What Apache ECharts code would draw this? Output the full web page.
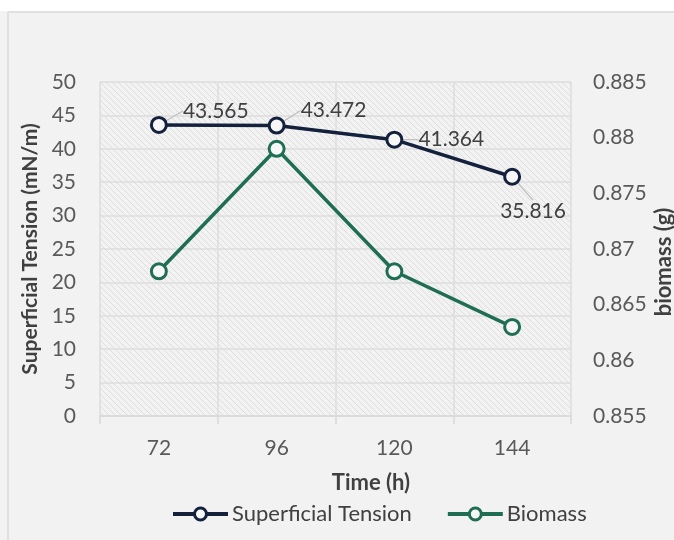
<!DOCTYPE html>
<html><head><meta charset="utf-8">
<script src="https://cdn.jsdelivr.net/npm/echarts@6/dist/echarts.min.js"></script>
<style>html,body{margin:0;padding:0;background:#f2f2f2;overflow:hidden}#c{width:674px;height:540px}</style>
</head><body><div id="c"></div>
<script>
const categories = ['72', '96', '120', '144'];
const tensionValues = [43.565, 43.472, 41.364, 35.816];
const biomassValues = [0.868, 0.879, 0.868, 0.863];
const leftMin = 0, leftMax = 50, leftStep = 5;
const rightMin = 0.855, rightMax = 0.885, rightStep = 0.005;

const labelOffsets = [[10, -14], [10, -15], [10, 0], [-26, 34]];

const FONT = 'Lato';
const navy = '#14213d';
const green = '#1f6e54';

const pc = document.createElement('canvas');
pc.width = 6; pc.height = 6;
const g = pc.getContext('2d');
g.fillStyle = '#f2f2f2'; g.fillRect(0, 0, 6, 6);
g.strokeStyle = '#dedede'; g.lineWidth = 1;
g.beginPath();
g.moveTo(-1, -1); g.lineTo(7, 7);
g.moveTo(-1, 5); g.lineTo(1, 7);
g.moveTo(5, -1); g.lineTo(7, 1);
g.stroke();

const chart = echarts.init(document.getElementById('c'));
chart.setOption({
  backgroundColor: '#f2f2f2',
  animation: false,
  textStyle: { fontFamily: FONT },
  graphic: [
    { type: 'rect', shape: { x: 0, y: 0, width: 674, height: 11 }, style: { fill: '#ffffff' }, silent: true },
    { type: 'line', shape: { x1: 8, y1: 12, x2: 674, y2: 12 }, style: { stroke: '#e0e0e0', lineWidth: 2 }, silent: true },
    { type: 'line', shape: { x1: 8, y1: 12, x2: 8, y2: 540 }, style: { stroke: '#e0e0e0', lineWidth: 2 }, silent: true },
    { type: 'text', x: 371, y: 483, style: { text: 'Time (h)', font: 'bold 22px Lato', fill: '#404040', align: 'center', verticalAlign: 'middle' } },
    { type: 'text', x: 664, y: 262, rotation: Math.PI / 2, style: { text: 'biomass (g)', font: 'bold 22px Lato', fill: '#404040', align: 'center', verticalAlign: 'middle' } }
  ],
  grid: {
    left: 100, right: 103, top: 82, bottom: 124,
    outerBoundsMode: 'none', containLabel: false,
    show: true, borderWidth: 0,
    backgroundColor: { image: pc, repeat: 'repeat' }
  },
  legend: {
    left: 171, top: 503, padding: 0,
    itemWidth: 55, itemHeight: 15, itemGap: 34,
    textStyle: { fontFamily: FONT, fontSize: 22, color: '#404040', padding: [0, 0, 0, -1] },
    data: [
      { name: 'Superficial Tension', lineStyle: { width: 4, color: navy }, itemStyle: { color: '#f7f7f7', borderColor: navy, borderWidth: 3 } },
      { name: 'Biomass', lineStyle: { width: 4, color: green }, itemStyle: { color: '#f7f7f7', borderColor: green, borderWidth: 3 } }
    ]
  },
  xAxis: {
    type: 'category', data: categories, boundaryGap: true,
    axisLine: { show: true, lineStyle: { color: '#d9d9d9', width: 1.5 } },
    axisTick: { show: true, length: 8, interval: 0, lineStyle: { color: '#d9d9d9', width: 1.5 } },
    splitLine: { show: true, interval: 0, lineStyle: { color: '#dcdcdc', width: 1.5 } },
    axisLabel: { fontFamily: FONT, fontSize: 21, color: '#595959', margin: 22 }
  },
  yAxis: [
    {
      type: 'value', min: leftMin, max: leftMax, interval: leftStep,
      name: 'Superficial Tension (mN/m)', nameLocation: 'middle', nameRotate: 90, nameGap: 56,
      nameTextStyle: { fontFamily: FONT, fontSize: 21, fontWeight: 'bold', color: '#404040' },
      axisLine: { show: false }, axisTick: { show: false },
      splitLine: { show: true, lineStyle: { color: '#dcdcdc', width: 1.5 } },
      axisLabel: { fontFamily: FONT, fontSize: 21, color: '#595959', margin: 24 }
    },
    {
      type: 'value', min: rightMin, max: rightMax, interval: rightStep,
      axisLine: { show: false }, axisTick: { show: false }, splitLine: { show: false },
      axisLabel: { fontFamily: FONT, fontSize: 21, color: '#595959', margin: 22,
        formatter: v => String(+v.toFixed(3)) }
    }
  ],
  series: [
    {
      name: 'Superficial Tension', type: 'line', yAxisIndex: 0, data: tensionValues,
      symbol: 'circle', symbolSize: 15,
      lineStyle: { color: navy, width: 3.5 },
      itemStyle: { color: '#f7f7f7', borderColor: navy, borderWidth: 3 },
      label: { show: true, position: 'right', fontFamily: FONT, fontSize: 21, color: '#404040',
        formatter: p => String(p.value) },
      labelLine: { show: true, lineStyle: { color: '#bfbfbf', width: 1.2 } },
      labelLayout: p => ({ dx: labelOffsets[p.dataIndex][0], dy: labelOffsets[p.dataIndex][1] }),
      z: 3
    },
    {
      name: 'Biomass', type: 'line', yAxisIndex: 1, data: biomassValues,
      symbol: 'circle', symbolSize: 15,
      lineStyle: { color: green, width: 3.5 },
      itemStyle: { color: '#f7f7f7', borderColor: green, borderWidth: 3 },
      z: 2
    }
  ]
});
</script></body></html>
